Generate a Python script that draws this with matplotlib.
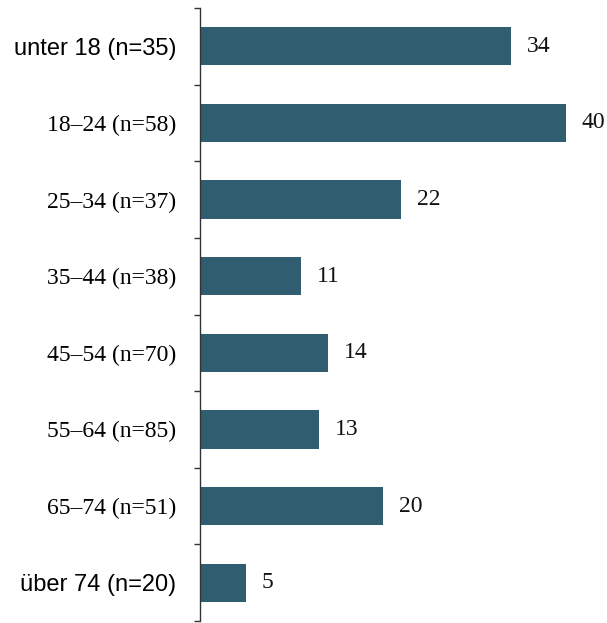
import matplotlib
matplotlib.use("Agg")
import matplotlib.pyplot as plt
from matplotlib.ticker import FixedLocator

categories = ["unter 18 (n=35)", "18–24 (n=58)", "25–34 (n=37)", "35–44 (n=38)",
              "45–54 (n=70)", "55–64 (n=85)", "65–74 (n=51)", "über 74 (n=20)"]
values = [34, 40, 22, 11, 14, 13, 20, 5]
sans_labels = {"unter 18 (n=35)", "über 74 (n=20)"}

W, H = 607, 623
fig = plt.figure(figsize=(W / 100, H / 100), dpi=100)
left = 200 / W
top = 8 / H
bottom = 2 / H
ax = fig.add_axes([left, bottom, 44 * 9.15 / W, 1 - top - bottom])

color = "#305d70"
pos = list(range(len(categories)))
ax.barh(pos, values, height=0.5, color=color)
ax.set_ylim(len(categories) - 0.5, -0.5)
ax.set_xlim(0, 44)

for s in ["top", "right", "bottom"]:
    ax.spines[s].set_visible(False)
ax.spines["left"].set_color("#333333")
ax.spines["left"].set_linewidth(1.0)
ax.set_xticks([])

ax.set_yticks(pos)
ax.set_yticklabels(categories)
ax.tick_params(axis="y", which="major", length=0, pad=17, labelsize=17)
ax.yaxis.set_minor_locator(FixedLocator([p - 0.5 for p in pos] + [len(pos) - 0.5]))
ax.tick_params(axis="y", which="minor", length=4, width=1, color="#333333")
for lab in ax.get_yticklabels():
    if lab.get_text() in sans_labels:
        lab.set_fontfamily("Liberation Sans")
        lab.set_fontsize(17)
    else:
        lab.set_fontfamily("Liberation Serif")
        lab.set_fontsize(17)

for p, v in zip(pos, values):
    ax.annotate(str(v), xy=(v, p), xytext=(11.5, 0), textcoords="offset points",
                va="center", ha="left", fontsize=17, family="Liberation Serif",
                color="#111111")

fig.savefig("out.png", dpi=100)
